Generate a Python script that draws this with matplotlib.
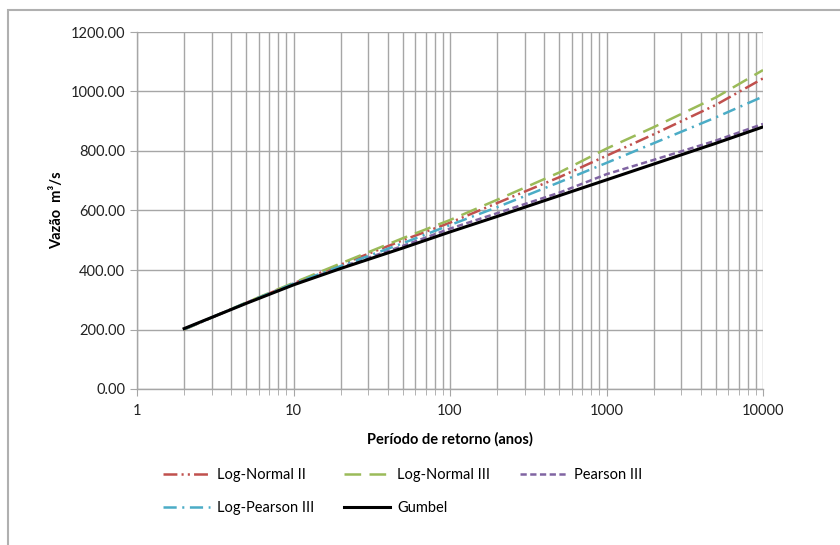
import matplotlib
matplotlib.use("Agg")
import matplotlib.pyplot as plt
from matplotlib.ticker import FixedLocator, FuncFormatter, LogLocator, NullFormatter
from matplotlib.patches import Rectangle

# return periods (years)
periodo = [2, 5, 10, 20, 50, 100, 200, 500, 1000, 2000, 5000, 10000]

# discharge estimates (m3/s)
log_normal_2 = [200, 290, 355, 418, 500, 559, 625, 712, 784, 856, 955, 1044]
log_normal_3 = [200, 291, 357, 422, 507, 568, 636, 728, 808, 880, 980, 1072]
pearson_3 = [202, 289, 352, 409, 481, 539, 591, 660, 722, 770, 835, 891]
log_pearson_3 = [201, 290, 354, 413, 490, 551, 611, 695, 760, 826, 913, 983]
gumbel = [203, 288, 350, 405, 474, 528, 580, 650, 703, 756, 826, 881]

x_ticks = [1, 10, 100, 1000, 10000]
y_ticks = [0, 200, 400, 600, 800, 1000, 1200]

plt.rcParams['font.family'] = ['Lato', 'DejaVu Sans']
plt.rcParams['lines.scale_dashes'] = False

fig = plt.figure(figsize=(8.4, 5.45), dpi=100)
ax = fig.add_axes([137/840, 1 - 389/545, (763-137)/840, (389-32)/545])

grid_c = '#a6a6a6'

l1, = ax.plot(periodo, log_normal_2, color='#c0504d', lw=1.8,
              dashes=(10, 3, 1.5, 3, 1.5, 3), label='Log-Normal II')
l2, = ax.plot(periodo, log_normal_3, color='#9bbb59', lw=1.8,
              dashes=(12, 6), label='Log-Normal III')
l3, = ax.plot(periodo, pearson_3, color='#8064a2', lw=1.8,
              dashes=(4.5, 2.5), label='Pearson III')
l4, = ax.plot(periodo, log_pearson_3, color='#4bacc6', lw=1.8,
              dashes=(9.5, 4, 1.5, 4), label='Log-Pearson III')
l5, = ax.plot(periodo, gumbel, color='black', lw=2.2, label='Gumbel')

ax.set_xscale('log')
ax.set_xlim(1, 10000)
ax.set_ylim(0, 1200)
ax.xaxis.set_major_locator(FixedLocator(x_ticks))
ax.xaxis.set_major_formatter(FuncFormatter(lambda v, p: '%d' % v))
ax.xaxis.set_minor_locator(LogLocator(base=10, subs=range(2, 10)))
ax.xaxis.set_minor_formatter(NullFormatter())
ax.yaxis.set_major_locator(FixedLocator(y_ticks))
ax.yaxis.set_major_formatter(FuncFormatter(lambda v, p: '%.2f' % v))

ax.grid(True, which='major', color=grid_c, lw=1.0)
ax.grid(True, which='minor', axis='x', color=grid_c, lw=1.0)
ax.set_axisbelow(True)

for s in ['top', 'right']:
    ax.spines[s].set_visible(False)
for s in ['left', 'bottom']:
    ax.spines[s].set_color(grid_c)
    ax.spines[s].set_linewidth(1.0)

ax.tick_params(axis='both', which='major', length=5, color=grid_c,
               labelsize=10.5, labelcolor='#222222')
ax.tick_params(axis='x', which='minor', length=4, color=grid_c)
ax.tick_params(axis='x', which='major', pad=6)

ax.set_xlabel('Período de retorno (anos)', fontsize=10.5, fontweight='bold',
              labelpad=10)
ax.set_ylabel('Vazão  m³/s', fontsize=10.5, fontweight='bold', labelpad=5)

leg = fig.legend([l1, l4, l2, l5, l3],
                 ['Log-Normal II', 'Log-Pearson III', 'Log-Normal III',
                  'Gumbel', 'Pearson III'],
                 ncol=3, loc='upper left', bbox_to_anchor=(150/840, 1 - 455/545),
                 frameon=False, fontsize=10.5, handlelength=3.2,
                 handletextpad=0.5, columnspacing=2.0, labelspacing=1.3)

# outer chart frame
fig.patches.append(Rectangle((8/840, -0.1), 1.2, (545 - 10)/545 + 0.1,
                             transform=fig.transFigure, fill=False,
                             edgecolor='#b0b0b0', lw=1.5))

fig.savefig('out.png', dpi=100)
